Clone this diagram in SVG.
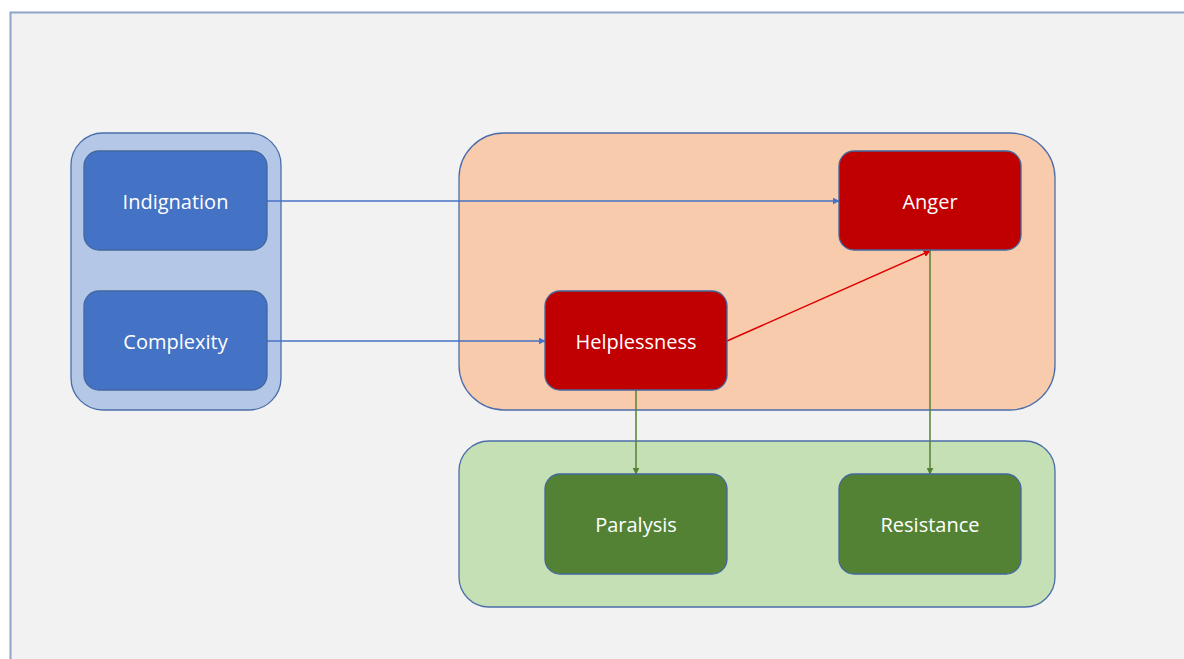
<svg xmlns="http://www.w3.org/2000/svg" width="1184" height="659" viewBox="0 0 1184 659">
<style>
.lbl{font-family:"Open Sans","Liberation Sans",sans-serif;font-size:20px;fill:#ffffff;text-anchor:middle;dominant-baseline:central}
.node{stroke:#41679f;stroke-width:1.3}
.blue{fill:#4472c4}.red{fill:#c00000}.green{fill:#548235}
.cont{stroke:#4b6eaa;stroke-width:1.3}
.conn{fill:none;stroke-width:1.5}
</style>
<defs>
<marker id="ab" viewBox="0 0 10 10" refX="9" refY="5" markerWidth="7" markerHeight="7" markerUnits="userSpaceOnUse" orient="auto"><path d="M0,0L10,5L0,10z" fill="#4472c4"/></marker>
<marker id="ar" viewBox="0 0 10 10" refX="9" refY="5" markerWidth="7" markerHeight="7" markerUnits="userSpaceOnUse" orient="auto"><path d="M0,0L10,5L0,10z" fill="#e00000"/></marker>
<marker id="ag" viewBox="0 0 10 10" refX="9" refY="5" markerWidth="7" markerHeight="7" markerUnits="userSpaceOnUse" orient="auto"><path d="M0,0L10,5L0,10z" fill="#548235"/></marker>
</defs>
<rect x="0" y="0" width="1184" height="659" fill="#ffffff"/>
<rect x="10.5" y="12.5" width="1190" height="660" fill="#f2f2f2" stroke="#8fa4c8" stroke-width="2"/>
<g id="container-left"><rect class="cont" x="71" y="133" width="210" height="277" rx="32" fill="#b4c7e7"/></g>
<g id="container-orange"><rect class="cont" x="459" y="133" width="596" height="277" rx="45" fill="#f8cbad"/></g>
<g id="container-green"><rect class="cont" x="459" y="441" width="596" height="166" rx="30" fill="#c5e0b4"/></g>
<g id="connectors">
<line class="conn" x1="267" y1="201" x2="839" y2="201" stroke="#4472c4" marker-end="url(#ab)"/>
<line class="conn" x1="267" y1="341" x2="545" y2="341" stroke="#4472c4" marker-end="url(#ab)"/>
<line class="conn" x1="727" y1="341" x2="930" y2="251" stroke="#e00000" marker-end="url(#ar)"/>
<line class="conn" x1="636" y1="390" x2="636" y2="474" stroke="#548235" marker-end="url(#ag)"/>
<line class="conn" x1="930" y1="250" x2="930" y2="474" stroke="#548235" marker-end="url(#ag)"/>
</g>
<g id="indignation"><rect class="node blue" x="84" y="151" width="183" height="99" rx="15"/><text class="lbl" x="175.5" y="201">Indignation</text></g>
<g id="complexity"><rect class="node blue" x="84" y="291" width="183" height="99" rx="15"/><text class="lbl" x="175.5" y="341">Complexity</text></g>
<g id="anger"><rect class="node red" x="839" y="151" width="182" height="99" rx="15"/><text class="lbl" x="930" y="201">Anger</text></g>
<g id="helplessness"><rect class="node red" x="545" y="291" width="182" height="99" rx="15"/><text class="lbl" x="636" y="341">Helplessness</text></g>
<g id="paralysis"><rect class="node green" x="545" y="474" width="182" height="100" rx="15"/><text class="lbl" x="636" y="524">Paralysis</text></g>
<g id="resistance"><rect class="node green" x="839" y="474" width="182" height="100" rx="15"/><text class="lbl" x="930" y="524">Resistance</text></g>
</svg>
